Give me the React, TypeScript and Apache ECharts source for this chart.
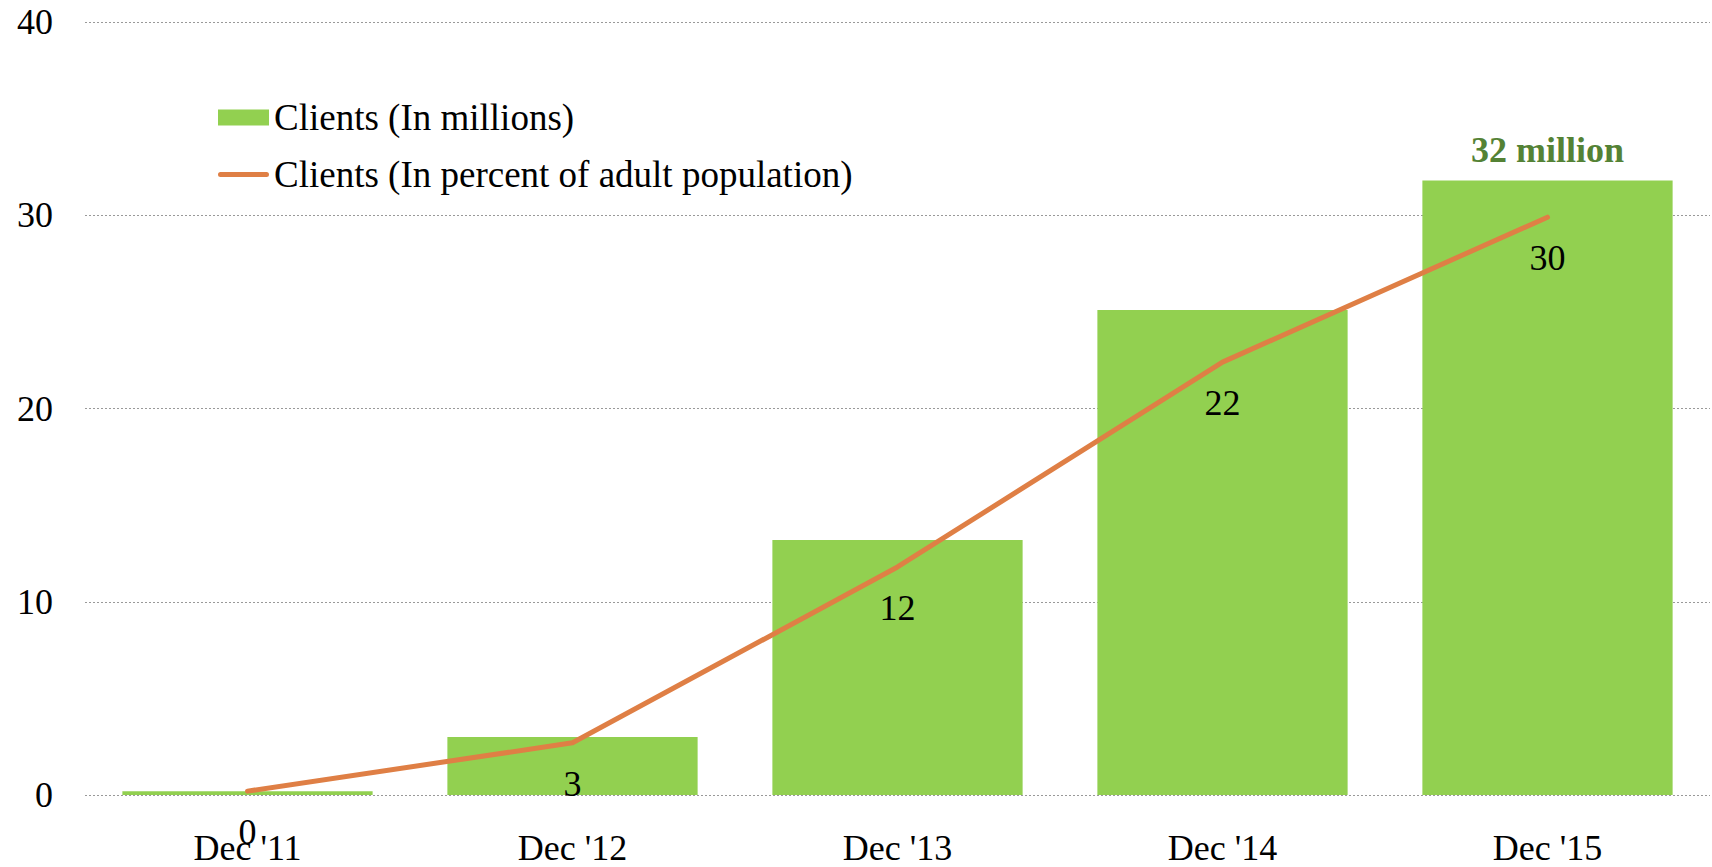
import React, { useEffect, useRef } from "react";
import * as echarts from "echarts";

const categories = ["Dec '11", "Dec '12", "Dec '13", "Dec '14", "Dec '15"];
const clientsMillions = [0.2, 3.0, 13.2, 25.1, 31.8];
const clientsPercent = [0.2, 2.7, 11.8, 22.4, 29.9];
const yTicks = { min: 0, max: 40, interval: 10 };

const FONT = "Liberation Serif";
const BAR_COLOR = "#92D050";
const LINE_COLOR = "#DF7F45";
const DARK_GREEN = "#548235";
const LINE_ICON = "path://M2.5,0 H48.5 A2.5,2.5 0 0 1 48.5,5 H2.5 A2.5,2.5 0 0 1 2.5,0 Z";

export default function App() {
  const ref = useRef<HTMLDivElement>(null);
  useEffect(() => {
    if (!ref.current) return;
    const chart = echarts.init(ref.current, undefined, { renderer: "svg" });
    const last = clientsMillions.length - 1;
    chart.setOption({
      animation: false,
      textStyle: { fontFamily: FONT },
      grid: { left: 85, right: 2, top: 22, bottom: 72, containLabel: false },
      legend: {
        orient: "vertical",
        left: 213,
        top: 94,
        itemWidth: 51,
        itemHeight: 16,
        itemGap: 20,
        textStyle: { fontFamily: FONT, fontSize: 37, color: "#000" },
        data: [
          { name: "Clients (In millions)", icon: "rect" },
          {
            name: "Clients (In percent of adult population)",
            icon: LINE_ICON,
            itemStyle: { color: LINE_COLOR, opacity: 1 },
          },
        ],
      },
      xAxis: {
        type: "category",
        data: categories,
        axisLine: { show: false },
        axisTick: { show: false },
        axisLabel: { fontFamily: FONT, fontSize: 36, color: "#000", margin: 35 },
      },
      yAxis: {
        type: "value",
        min: yTicks.min,
        max: yTicks.max,
        interval: yTicks.interval,
        axisLine: { show: false },
        axisTick: { show: false },
        axisLabel: { fontFamily: FONT, fontSize: 36, color: "#000", margin: 32 },
        splitLine: { lineStyle: { color: "#999", type: [2, 2], width: 1.2 } },
      },
      series: [
        {
          name: "Clients (In millions)",
          type: "bar",
          barCategoryGap: "23%",
          itemStyle: { color: BAR_COLOR },
          data: clientsMillions.map((v, i) =>
            i === last
              ? {
                  value: v,
                  label: {
                    show: true,
                    position: "top",
                    distance: 12,
                    fontFamily: FONT,
                    fontSize: 36,
                    fontWeight: "bold",
                    color: DARK_GREEN,
                    formatter: (p: any) => `${Math.round(p.value)} million`,
                  },
                }
              : v
          ),
        },
        {
          name: "Clients (In percent of adult population)",
          type: "line",
          symbol: "circle",
          symbolSize: 2,
          showSymbol: true,
          z: 5,
          lineStyle: { color: LINE_COLOR, width: 5, cap: "round", join: "round" },
          itemStyle: { color: LINE_COLOR },
          labelLayout: { hideOverlap: false },
          label: {
            show: true,
            position: "bottom",
            distance: 22,
            fontFamily: FONT,
            fontSize: 36,
            color: "#000",
            formatter: (p: any) => `${Math.round(p.value)}`,
          },
          data: clientsPercent,
        },
      ],
    });
    return () => chart.dispose();
  }, []);
  return (
    <div
      ref={ref}
      style={{ position: "fixed", left: 0, top: 0, width: 1712, height: 867, background: "#fff" }}
    />
  );
}
